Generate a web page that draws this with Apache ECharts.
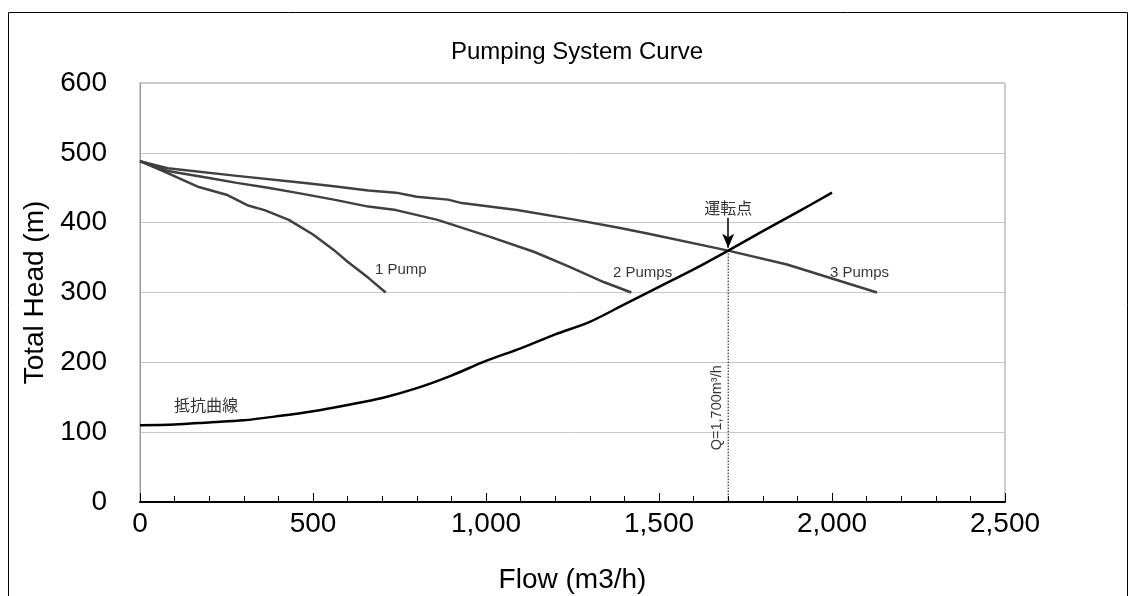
<!DOCTYPE html>
<html>
<head>
<meta charset="utf-8">
<script src="https://cdn.jsdelivr.net/npm/echarts@6/dist/echarts.min.js"></script>
<style>
  html, body { margin: 0; padding: 0; background: #fff; }
  #chart { width: 1135px; height: 596px; }
</style>
</head>
<body>
<div id="chart"></div>
<script>
// 読み取った値
const pump1Flow = [0, 80, 170, 250, 310, 360, 430, 500, 560, 600, 660, 710]
const pump1Head = [488, 471, 451, 440, 425, 418, 404, 383, 361, 344, 321, 300]
const pump2Flow = [0, 80, 200, 280, 370, 450, 560, 660, 740, 860, 1010, 1140, 1240, 1340, 1420]
const pump2Head = [488, 474, 464, 457, 450, 443, 433, 423, 418, 404, 380, 358, 337, 315, 300]
const pump3Flow = [0, 80, 280, 470, 560, 660, 740, 800, 890, 930, 1090, 1260, 1380, 1470, 1700, 1870, 2130]
const pump3Head = [488, 478, 467, 457, 452, 446, 443, 437, 433, 428, 418, 404, 393, 384, 360, 340, 300]
const sysFlow = [0, 100, 200, 300, 400, 500, 600, 700, 800, 900, 1000, 1100, 1200, 1300, 1400, 1500, 1600, 1700, 1800, 1900, 2000]
const sysHead = [110, 111, 114, 117, 123, 130, 139, 149, 163, 181, 202, 220, 240, 258, 283, 308, 333, 360, 388, 415, 443]
const dutyFlow = 1700
const dutyHead = 360

const zip = (a, b) => a.map((v, i) => [v, b[i]])

const chart = echarts.init(document.getElementById('chart'))
const font = 'Liberation Sans, Arial, sans-serif'
const pumpStyle = { color: '#404040', width: 2.5 }

chart.setOption({
  animation: false,
  textStyle: { fontFamily: font },
  title: {
    text: 'Pumping System Curve',
    left: 572, top: 35, textAlign: 'center',
    textStyle: { fontSize: 24, fontWeight: 'normal', color: '#000', fontFamily: font }
  },
  graphic: [{
    type: 'rect',
    shape: { x: 8.5, y: 12.5, width: 1119, height: 620 },
    style: { fill: 'none', stroke: '#000', lineWidth: 1 }
  }],
  grid: {
    left: 140, right: 130, top: 83, bottom: 94,
    outerBoundsMode: 'none', containLabel: false,
    show: true, borderColor: '#999', borderWidth: 1
  },
  xAxis: {
    type: 'value', min: 0, max: 2500, interval: 500,
    name: 'Flow (m3/h)', nameLocation: 'middle', nameGap: 64,
    nameTextStyle: { fontSize: 28, color: '#000', fontFamily: font },
    axisLine: { lineStyle: { color: '#000', width: 2 } },
    axisTick: { inside: true, length: 9, lineStyle: { color: '#000' } },
    minorTick: { show: true, splitNumber: 5, length: 6, lineStyle: { color: '#000' } },
    axisLabel: {
      fontSize: 28, color: '#000', margin: 8,
      formatter: v => v.toLocaleString('en-US')
    },
    splitLine: { show: false }
  },
  yAxis: {
    type: 'value', min: 0, max: 600, interval: 100,
    name: 'Total Head (m)', nameLocation: 'middle', nameGap: 91,
    nameTextStyle: { fontSize: 28, color: '#000', fontFamily: font },
    axisLine: { show: true, lineStyle: { color: '#999' } },
    axisTick: { show: false },
    axisLabel: { fontSize: 28, color: '#000', margin: 33 },
    splitLine: { lineStyle: { color: '#c8c8c8' } }
  },
  series: [
    { name: '1 Pump', type: 'line', data: zip(pump1Flow, pump1Head), showSymbol: false, lineStyle: pumpStyle, itemStyle: { color: '#404040' } },
    { name: '2 Pumps', type: 'line', data: zip(pump2Flow, pump2Head), showSymbol: false, lineStyle: pumpStyle, itemStyle: { color: '#404040' } },
    { name: '3 Pumps', type: 'line', data: zip(pump3Flow, pump3Head), showSymbol: false, lineStyle: pumpStyle, itemStyle: { color: '#404040' } },
    {
      name: '抵抗曲線', type: 'line', data: zip(sysFlow, sysHead), showSymbol: false,
      smooth: 0.3, lineStyle: { color: '#000', width: 2.5 }, itemStyle: { color: '#000' },
      markLine: {
        silent: true, symbol: ['none', 'arrow'], symbolSize: [9, 14],
        label: { show: false },
        lineStyle: { color: '#000', width: 1.5, type: 'solid' },
        data: [[{ coord: [dutyFlow, 407] }, { coord: [dutyFlow, 364] }]]
      }
    },
    {
      name: 'duty', type: 'line', data: [[dutyFlow, dutyHead], [dutyFlow, 0]], showSymbol: false,
      lineStyle: { color: '#000', width: 1, type: [1.5, 1.5] }, z: 1
    },
    {
      name: 'labels', type: 'scatter', symbolSize: 0, silent: true,
      label: { show: true, color: '#000', fontSize: 15, fontFamily: font, position: 'right', distance: 0, formatter: p => p.data.text },
      data: [
        { value: [679, 332], text: '1 Pump' },
        { value: [1367, 328], text: '2 Pumps' },
        { value: [1994, 328], text: '3 Pumps' },
        { value: [98, 139], text: '抵抗曲線', label: { fontFamily: 'Noto Sans CJK JP', fontSize: 16 } },
        { value: [1700, 421], text: '運転点', label: { position: 'inside', fontFamily: 'Noto Sans CJK JP', fontSize: 16 } },
        { value: [1668, 135], text: 'Q=1,700m³/h', label: { position: 'inside', rotate: 90, fontSize: 14.5 } }
      ]
    }
  ]
})
</script>
</body>
</html>
